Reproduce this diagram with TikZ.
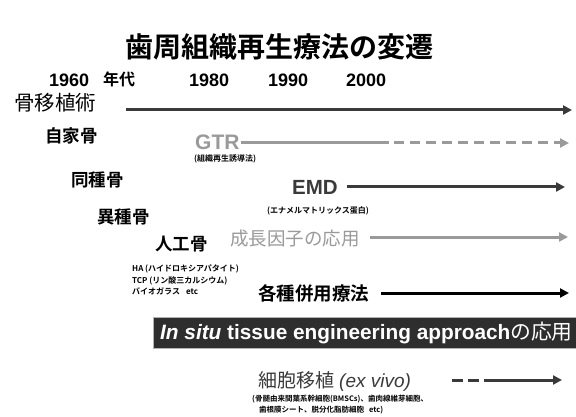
\documentclass[tikz,border=0pt]{standalone}
\usepackage{fontspec}
\setmainfont{Liberation Sans}
\newfontfamily\jp{Noto Sans CJK JP}
\newfontfamily\jpb{Noto Sans CJK JP Bold}
\usetikzlibrary{arrows.meta}
\definecolor{darkln}{HTML}{3A3A3A}
\definecolor{grayln}{HTML}{9A9A9A}
\definecolor{bardark}{HTML}{2E2E2E}
\tikzset{
  lbl/.style={anchor=west,inner sep=0pt,text=black},
  tline/.style={line width=3pt,-{Triangle[length=9pt,width=9pt]}},
  dk/.style={tline,draw=darkln},
  gr/.style={tline,draw=grayln},
}
\begin{document}
\begin{tikzpicture}[x=1pt,y=-1pt]
\useasboundingbox[fill=white] (0,0) rectangle (576,417);
% title
\node[inner sep=0pt] (title) at (279,47) {\jpb\fontsize{28}{30}\selectfont 歯周組織再生療法の変遷};
% years
\node[lbl] (y1960) at (49,80) {\bfseries\fontsize{18}{19}\selectfont 1960};
\node[lbl] (nendai) at (103,79) {\jpb\fontsize{16}{18}\selectfont 年代};
\node[lbl] (y1980) at (189,80) {\bfseries\fontsize{18}{19}\selectfont 1980};
\node[lbl] (y1990) at (268,80) {\bfseries\fontsize{18}{19}\selectfont 1990};
\node[lbl] (y2000) at (346,80) {\bfseries\fontsize{18}{19}\selectfont 2000};
% bone graft
\node[lbl] (kotsu) at (14,103) {\jp\fontsize{20.5}{22}\selectfont 骨移植術};
\coordinate (kotsuS) at (126,110);
\coordinate (kotsuE) at (572,110);
\draw[dk] (kotsuS) -- (kotsuE);
\node[lbl] (jika) at (45,136) {\jpb\fontsize{17.5}{19}\selectfont 自家骨};
\node[lbl] (doshu) at (71,180) {\jpb\fontsize{17.5}{19}\selectfont 同種骨};
\node[lbl] (ishu) at (97,217) {\jpb\fontsize{17.5}{19}\selectfont 異種骨};
\node[lbl] (jinko) at (155,244) {\jpb\fontsize{17.5}{19}\selectfont 人工骨};
% GTR
\node[lbl,text=grayln] (gtr) at (195,142) {\bfseries\fontsize{21}{22}\selectfont GTR};
\node[lbl] (gtrsub) at (194,159) {\jpb\fontsize{8}{9}\selectfont (組織再生誘導法)};
\coordinate (gtrMid) at (389,143);
\coordinate (gtrE) at (569,143);
\draw[line width=3pt,draw=grayln] (gtr.east) ++(1,1) -- (gtrMid);
\draw[gr,dash pattern=on 10pt off 6pt] (gtrMid) ++(5,0) -- (gtrE);
% EMD
\node[lbl,text=darkln] (emd) at (292,187) {\bfseries\fontsize{20.5}{22}\selectfont EMD};
\node[lbl] (emdsub) at (267,211) {\jpb\fontsize{8}{9}\selectfont (エナメルマトリックス蛋白)};
\coordinate (emdE) at (565,187);
\draw[dk] (emd.east) ++(9,0) -- (emdE);
% growth factor
\node[lbl,text=grayln] (gf) at (230,239) {\jp\fontsize{18.5}{20}\selectfont 成長因子の応用};
\coordinate (gfE) at (568,237);
\draw[gr] (gf.east) ++(10,-2) -- (gfE);
% HA etc
\node[lbl,align=left,font=\jpb\fontsize{8}{12}\selectfont] (ha) at (132,280) {HA (ハイドロキシアパタイト)\\[-0.5pt]TCP (リン酸三カルシウム)\\[-0.5pt]バイオガラス\hspace{6pt}etc};
% combination
\node[lbl] (heiyo) at (258,293) {\jpb\fontsize{18.5}{20}\selectfont 各種併用療法};
\coordinate (heiyoE) at (569,293);
\draw[tline,draw=black] (heiyo.east) ++(12,0) -- (heiyoE);
% bar
\node[fill=bardark,draw=gray!60,line width=0.8pt,minimum width=423pt,minimum height=31pt,anchor=west,inner sep=0pt] (bar) at (153,333) {};
\node[inner sep=0pt,text=white,anchor=west] (bartext) at (160,333) {\bfseries\fontsize{20.8}{22}\selectfont \textit{In situ} tissue engineering approach{\jp\mdseries の応用}};
% cell transplantation
\node[lbl,text=darkln] (cell) at (258,381) {\jp\fontsize{19}{20}\selectfont 細胞移植\hspace{5pt}{\rmfamily\itshape (ex vivo)}};
\coordinate (cellS) at (452,380);
\coordinate (cellM) at (488,380);
\coordinate (cellE) at (562,380);
\draw[line width=3pt,draw=darkln,dash pattern=on 11pt off 5pt] (cellS) -- (cellM);
\draw[dk] (cellM) -- (cellE);
\node[lbl,align=left,font=\jpb\fontsize{7.5}{12}\selectfont] (cellsub) at (252,405) {(骨髄由来間葉系幹細胞(BMSCs)、歯肉線維芽細胞、\\[-1pt]\hspace{7pt}歯根膜シート、脱分化脂肪細胞\hspace{5pt}etc)};
\end{tikzpicture}
\end{document}
